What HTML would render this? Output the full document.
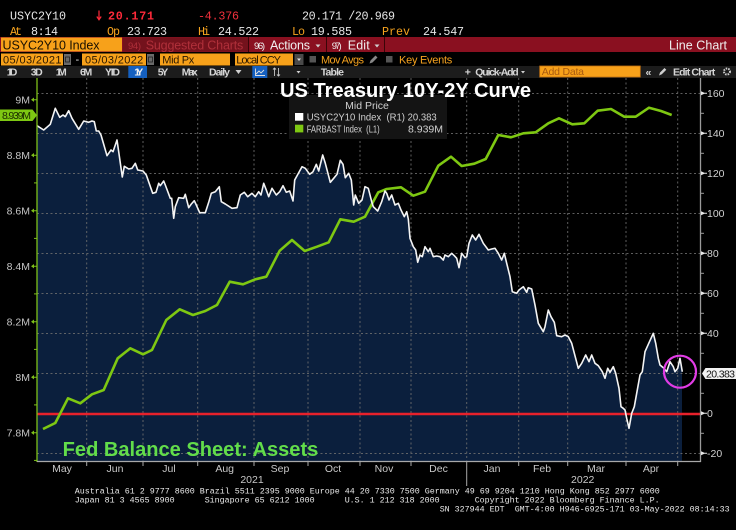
<!DOCTYPE html>
<html><head><meta charset="utf-8"><style>
html,body{margin:0;padding:0;background:#000;}
body{width:736px;height:530px;overflow:hidden;}
svg{display:block;}
.m{font-family:"Liberation Mono",monospace;}
.s{font-family:"Liberation Sans",sans-serif;}
</style></head><body>
<svg width="736" height="530" viewBox="0 0 736 530" xmlns="http://www.w3.org/2000/svg">
<rect width="736" height="530" fill="#000"/>
<!-- header row 1 -->
<g class="m" font-size="11.7">
<text x="10" y="19.5" fill="#e6e6e6" textLength="56">USYC2Y10</text>
<path d="M99 10.5V19.5M96.8 16.5L99 19.8L101.2 16.5" stroke="#ff2a3a" stroke-width="1.2" fill="none"/>
<text x="108" y="19.5" fill="#ff2a3a" font-weight="bold" textLength="46">20.171</text>
<text x="198" y="19.5" fill="#f0303c" textLength="41">-4.376</text>
<text x="302" y="19.5" fill="#e6e6e6" textLength="93">20.171 /20.969</text>
<text x="10" y="35" fill="#f5a21e" textLength="12">At</text>
<text x="31" y="35" fill="#e6e6e6" textLength="27">8:14</text>
<text x="107" y="35" fill="#f5a21e" textLength="13">Op</text>
<text x="127" y="35" fill="#e6e6e6" textLength="40">23.723</text>
<text x="198" y="35" fill="#f5a21e" textLength="12">Hi</text>
<text x="218" y="35" fill="#e6e6e6" textLength="41">24.522</text>
<text x="292" y="35" fill="#f5a21e" textLength="13">Lo</text>
<text x="311" y="35" fill="#e6e6e6" textLength="41">19.585</text>
<text x="382" y="35" fill="#f5a21e" textLength="28">Prev</text>
<text x="423" y="35" fill="#e6e6e6" textLength="41">24.547</text>
</g>
<!-- row 3 red bar -->
<rect x="0" y="37" width="736" height="15" fill="#8a1020"/>
<rect x="1" y="37.5" width="121" height="14" fill="#f7a11a"/>
<rect x="123" y="37.5" width="125" height="14" fill="#74121c"/>
<line x1="248.5" y1="37" x2="248.5" y2="52" stroke="#3a0508"/>
<line x1="326.5" y1="37" x2="326.5" y2="52" stroke="#3a0508"/>
<line x1="384.5" y1="37" x2="384.5" y2="52" stroke="#3a0508"/>
<g class="s">
<text x="2.5" y="49.5" font-size="12.5" fill="#1a1000" textLength="97">USYC2Y10 Index</text>
<text x="128" y="49" font-size="9.5" fill="#b0303a" textLength="13">94)</text>
<text x="145.7" y="49.5" font-size="12.5" fill="#b0303a" textLength="97.6">Suggested Charts</text>
<text x="254" y="49" font-size="9.5" fill="#f0f0f0" textLength="11">96)</text>
<text x="270" y="49.5" font-size="12.5" fill="#f0f0f0" textLength="40">Actions</text>
<path d="M315.5 44.5h5l-2.5 3z" fill="#d0d0d0"/>
<text x="331.7" y="49" font-size="9.5" fill="#f0f0f0" textLength="10">97)</text>
<text x="347.7" y="49.5" font-size="12.5" fill="#f0f0f0" textLength="22">Edit</text>
<path d="M374.5 44.5h5l-2.5 3z" fill="#d0d0d0"/>
<text x="669" y="49.5" font-size="12.5" fill="#f0f0f0" textLength="58">Line Chart</text>
</g>
<!-- row 4 -->
<rect x="1" y="53.5" width="62" height="12" fill="#f7a11a"/>
<rect x="64" y="54" width="7" height="11" fill="#6a6a6a"/>
<rect x="65.5" y="57" width="4" height="5" fill="none" stroke="#222" stroke-width="0.8"/>
<rect x="82" y="53.5" width="64" height="12" fill="#f7a11a"/>
<rect x="147" y="54" width="7" height="11" fill="#6a6a6a"/>
<rect x="148.5" y="57" width="4" height="5" fill="none" stroke="#222" stroke-width="0.8"/>
<rect x="160" y="53.5" width="70" height="12" fill="#f7a11a"/>
<rect x="235" y="53.5" width="58" height="12" fill="#f7a11a"/>
<rect x="294.5" y="54" width="9" height="11" fill="#4a4a4a"/>
<path d="M297 58.5h4l-2 2.5z" fill="#ddd"/>
<rect x="309.5" y="56" width="6.5" height="6.5" fill="#555"/>
<rect x="386" y="56" width="6.5" height="6.5" fill="#555"/>
<path d="M369.5 63.5l1-3 5-5 2 2-5 5z" fill="#888"/>
<g class="s" font-size="11">
<text x="3" y="63.5" fill="#2a1800" textLength="58.5">05/03/2021</text>
<text x="75.5" y="63" fill="#e0e0e0">-</text>
<text x="85" y="63.5" fill="#2a1800" textLength="58.3">05/03/2022</text>
<text x="162.3" y="63.5" fill="#2a1800" textLength="32">Mid Px</text>
<text x="236.3" y="63.5" fill="#2a1800" textLength="44.7">Local CCY</text>
<text x="321" y="63.5" fill="#f5a21e" textLength="43">Mov Avgs</text>
<text x="399" y="63.5" fill="#f5a21e" textLength="53.3">Key Events</text>
</g>
<!-- row 5 -->
<rect x="0" y="66" width="736" height="12" fill="#1c1c1c"/>
<rect x="128.3" y="66" width="18.7" height="12" fill="#1560c0"/>
<rect x="252.3" y="66" width="15" height="12" fill="#1560c0"/>
<path d="M255 75.5h10M255.5 75V68.5M256 74l3-3 2 2 3-3" stroke="#e0e0e0" stroke-width="0.9" fill="none"/>
<path d="M274.5 68v8M273 69.5l1.5-1.5 1.5 1.5M278.5 68v8M277 74.5l1.5 1.5 1.5-1.5" stroke="#c8c8c8" stroke-width="0.9" fill="none"/>
<rect x="539.7" y="66" width="100.6" height="11" fill="#f7a11a" stroke="#c07010" stroke-width="0.8"/>
<g class="s" font-size="10.5" fill="#d6d6d6" font-weight="bold">
<text x="6.7" y="75.5" textLength="10.6">1D</text>
<text x="30.7" y="75.5" textLength="12">3D</text>
<text x="55.7" y="75.5" textLength="11">1M</text>
<text x="80" y="75.5" textLength="12.3">6M</text>
<text x="105" y="75.5" textLength="15">YTD</text>
<text x="134.3" y="75.5" textLength="9" fill="#f0f0f0">1Y</text>
<text x="157.7" y="75.5" textLength="10.6">5Y</text>
<text x="181.7" y="75.5" textLength="16">Max</text>
<text x="209" y="75.5" textLength="21">Daily</text>
<text x="320.7" y="75.5" textLength="23.3">Table</text>
<text x="464.7" y="75.5" textLength="5.3">+</text>
<text x="475.3" y="75.5" textLength="43.4">Quick-Add</text>
<text x="645.5" y="75.5" textLength="7">«</text>
<text x="673" y="75.5" textLength="42.3">Edit Chart</text>
</g>
<path d="M235.5 70h6l-3 4z" fill="#d0d0d0"/>
<path d="M296.5 71h4l-2 2.5z" fill="#d0d0d0"/>
<path d="M521 71h4l-2 2.5z" fill="#d0d0d0"/>
<path d="M659 75.5l1-3 4.5-4.5 1.8 1.8-4.5 4.5z" fill="#cfcfcf"/>
<circle cx="727" cy="71.5" r="3" fill="none" stroke="#cfcfcf" stroke-width="2" stroke-dasharray="1.5,1"/>
<text class="s" x="541.7" y="75" font-size="10.5" fill="#a85a10" textLength="42.3">Add Data</text>

<!-- chart -->
<polygon fill="#0b1f3d" points="37,461 37,125.7 43.7,130 50.3,124.3 55.3,108.3 59.7,117.3 63,115 65.3,116.7 68.7,110.7 72,118.3 78.7,129.3 83.7,121 88.7,122.3 92,121 94.3,121.7 96.3,131 98.7,131 101,135 107,155.7 111,150 113,151.7 117,140 118.7,151.7 122.3,177 124.3,166.3 128.7,169 132,168.3 135.3,163.3 137.7,170 143,171 146.3,175 152.7,193.3 156,192.3 158.7,183.3 160.3,185.7 163.7,181 165.3,185 170.3,198.3 171.7,198.3 173.7,218.3 175.3,206.7 178.7,197.7 183.7,198.3 185.3,194.3 188.7,207.7 191.3,204 194.3,200.7 196.3,205 199.7,212.7 205.3,212.7 208.7,202.3 211.3,193.3 215.3,191.7 219.3,186.7 221.3,201.7 225.3,204 232,208.3 237,207.7 240.3,195 244.3,192.3 247.7,196.7 252,193.3 255.3,196.7 258.7,191.7 261,195 263.7,183.3 266.3,190 268.7,196.7 272,188.3 276.3,195 279.7,191.7 283,185.7 286.3,192.3 289.7,191 293,201 294.7,180 302,166.7 305.3,168.3 309.7,174.3 313,171.7 316.3,164.3 318.7,171 322.7,155 325.3,163.3 330.3,182.3 333.7,178.3 337,174.3 340.3,160.3 343,164.3 345.3,177.7 348.7,173.3 351.3,180 353.7,205 355.3,195 358.7,203.3 362,200 365,186.7 368.3,188.3 371.7,201.7 373.3,206.7 377.7,211 381.7,201.7 385,191 386.7,193.3 389,200 391.7,195 395,205 398.3,203.3 401,210 404.3,216.7 406.7,211.7 408.3,219 410,238.3 413.3,246.7 415.7,250 417.7,262.3 420,255 422.3,256.7 425,246.7 428.3,251.7 430,248.3 433.3,256.7 436.7,256 440,256.7 443.3,260 445,255 448.3,256.7 451.7,253.3 454.3,255.7 456.7,258.3 459,267.7 461.7,253.3 465,257.7 466.7,256.7 469,243.3 472.3,235 475.7,240 479,234.3 483.3,243.3 488.3,250 491.7,249 495,248.3 498.3,253.3 501.7,260 504.3,253.3 506.7,263.3 510,276.7 512.3,291.7 516.7,293.3 519,290 523.3,286.7 526.7,292.3 528.3,287.7 531.7,289 535,305 538.3,323.3 543.3,331.7 545,326.7 548.3,310 551,316.7 554.3,322.3 556.7,335.7 561.7,336.7 565,335 568.3,336.7 571.7,343.3 578.3,368.3 581.7,363.3 585.7,355 589,361.7 591.7,355 595,363.3 598.3,365.7 602.3,371.7 605,378.3 607.7,368.3 610,372.3 613.3,366.7 615.7,373.3 619,388.3 621,406.7 623.3,408.3 625,410 626.7,418.3 629,428.3 631.7,413.3 634.3,406.7 636.7,393.3 640,375 642.3,371.7 645,351.7 648.3,344.3 653.3,333.3 655.7,343.3 658.3,358.3 660,365 663.3,367.7 666.7,371.7 670,361.7 673.3,366.7 675,371.7 677.7,368.3 680,358.3 682,371.7 682,461"/>
<!-- grid -->
<g stroke="#6f6f6f" stroke-width="1" stroke-dasharray="2,2.5" opacity="0.85">
<line x1="37" y1="93.5" x2="700" y2="93.5"/>
<line x1="37" y1="133.5" x2="700" y2="133.5"/>
<line x1="37" y1="173.5" x2="700" y2="173.5"/>
<line x1="37" y1="213.5" x2="700" y2="213.5"/>
<line x1="37" y1="253.5" x2="700" y2="253.5"/>
<line x1="37" y1="293.5" x2="700" y2="293.5"/>
<line x1="37" y1="333.5" x2="700" y2="333.5"/>
<line x1="37" y1="373.5" x2="700" y2="373.5"/>
<line x1="37" y1="453.5" x2="700" y2="453.5"/>
<line x1="86.7" y1="78" x2="86.7" y2="461"/>
<line x1="143" y1="78" x2="143" y2="461"/>
<line x1="197.7" y1="78" x2="197.7" y2="461"/>
<line x1="254" y1="78" x2="254" y2="461"/>
<line x1="308" y1="78" x2="308" y2="461"/>
<line x1="360" y1="78" x2="360" y2="461"/>
<line x1="411" y1="78" x2="411" y2="461"/>
<line x1="466.7" y1="78" x2="466.7" y2="461"/>
<line x1="518.7" y1="78" x2="518.7" y2="461"/>
<line x1="567.7" y1="78" x2="567.7" y2="461"/>
<line x1="626" y1="78" x2="626" y2="461"/>
<line x1="677.7" y1="78" x2="677.7" y2="461"/>
</g>
<!-- legend -->
<rect x="289" y="95" width="158" height="44" fill="#141414"/>
<g class="s" font-size="10.5" fill="#d0d0d0">
<text x="367" y="109" text-anchor="middle">Mid Price</text>
<rect x="295" y="113" width="8.3" height="7.7" fill="#ffffff"/>
<text x="306.7" y="120.5" textLength="130" lengthAdjust="spacingAndGlyphs" xml:space="preserve" style="white-space:pre">USYC2Y10 Index  (R1) 20.383</text>
<rect x="295" y="124.7" width="8.3" height="7.7" fill="#7ec812"/>
<text x="306.7" y="132.3" textLength="73" lengthAdjust="spacingAndGlyphs" xml:space="preserve" style="white-space:pre">FARBAST Index  (L1)</text>
<text x="443" y="132.3" text-anchor="end">8.939M</text>
</g>
<!-- title (on top of legend) -->
<text class="s" x="280" y="97" font-size="20" font-weight="bold" fill="#ffffff" textLength="251" lengthAdjust="spacingAndGlyphs">US Treasury 10Y-2Y Curve</text>
<!-- lines -->
<line x1="37" y1="414" x2="701" y2="414" stroke="#e8212b" stroke-width="2.6"/>
<polyline fill="none" stroke="#7ec812" stroke-width="2.6" stroke-linejoin="round" points="43,429 55.3,423 68,398.3 80.3,403.3 92,394.3 103.7,390 117.7,358.3 130.3,348.3 143,354.3 152,350 166.3,320 179.7,309.3 193,315 205.3,311 217,305 229.7,281.7 243,284.3 255.3,279.3 266.3,276.7 279.7,250.7 292,240 304.7,251 317,246.7 328.7,242.3 340.3,219.3 353.7,221.7 365,216.7 378.3,192.3 386.7,189 401,187.3 413.3,195.7 425,191.7 438.3,165.7 451,156.7 461.7,166 474.3,163.7 485.7,159 498.3,135 511,137.3 523.3,133.3 535.7,132.3 548.3,123.3 559,118.3 572.3,124.3 584.3,123.3 597.7,110.7 611,109 624.3,116.7 635.7,116.7 649,107.7 661,111 671.7,115"/>
<polyline fill="none" stroke="#f4f4f4" stroke-width="1.6" stroke-linejoin="round" points="37,125.7 43.7,130 50.3,124.3 55.3,108.3 59.7,117.3 63,115 65.3,116.7 68.7,110.7 72,118.3 78.7,129.3 83.7,121 88.7,122.3 92,121 94.3,121.7 96.3,131 98.7,131 101,135 107,155.7 111,150 113,151.7 117,140 118.7,151.7 122.3,177 124.3,166.3 128.7,169 132,168.3 135.3,163.3 137.7,170 143,171 146.3,175 152.7,193.3 156,192.3 158.7,183.3 160.3,185.7 163.7,181 165.3,185 170.3,198.3 171.7,198.3 173.7,218.3 175.3,206.7 178.7,197.7 183.7,198.3 185.3,194.3 188.7,207.7 191.3,204 194.3,200.7 196.3,205 199.7,212.7 205.3,212.7 208.7,202.3 211.3,193.3 215.3,191.7 219.3,186.7 221.3,201.7 225.3,204 232,208.3 237,207.7 240.3,195 244.3,192.3 247.7,196.7 252,193.3 255.3,196.7 258.7,191.7 261,195 263.7,183.3 266.3,190 268.7,196.7 272,188.3 276.3,195 279.7,191.7 283,185.7 286.3,192.3 289.7,191 293,201 294.7,180 302,166.7 305.3,168.3 309.7,174.3 313,171.7 316.3,164.3 318.7,171 322.7,155 325.3,163.3 330.3,182.3 333.7,178.3 337,174.3 340.3,160.3 343,164.3 345.3,177.7 348.7,173.3 351.3,180 353.7,205 355.3,195 358.7,203.3 362,200 365,186.7 368.3,188.3 371.7,201.7 373.3,206.7 377.7,211 381.7,201.7 385,191 386.7,193.3 389,200 391.7,195 395,205 398.3,203.3 401,210 404.3,216.7 406.7,211.7 408.3,219 410,238.3 413.3,246.7 415.7,250 417.7,262.3 420,255 422.3,256.7 425,246.7 428.3,251.7 430,248.3 433.3,256.7 436.7,256 440,256.7 443.3,260 445,255 448.3,256.7 451.7,253.3 454.3,255.7 456.7,258.3 459,267.7 461.7,253.3 465,257.7 466.7,256.7 469,243.3 472.3,235 475.7,240 479,234.3 483.3,243.3 488.3,250 491.7,249 495,248.3 498.3,253.3 501.7,260 504.3,253.3 506.7,263.3 510,276.7 512.3,291.7 516.7,293.3 519,290 523.3,286.7 526.7,292.3 528.3,287.7 531.7,289 535,305 538.3,323.3 543.3,331.7 545,326.7 548.3,310 551,316.7 554.3,322.3 556.7,335.7 561.7,336.7 565,335 568.3,336.7 571.7,343.3 578.3,368.3 581.7,363.3 585.7,355 589,361.7 591.7,355 595,363.3 598.3,365.7 602.3,371.7 605,378.3 607.7,368.3 610,372.3 613.3,366.7 615.7,373.3 619,388.3 621,406.7 623.3,408.3 625,410 626.7,418.3 629,428.3 631.7,413.3 634.3,406.7 636.7,393.3 640,375 642.3,371.7 645,351.7 648.3,344.3 653.3,333.3 655.7,343.3 658.3,358.3 660,365 663.3,367.7 666.7,371.7 670,361.7 673.3,366.7 675,371.7 677.7,368.3 680,358.3 682.3,371.7"/>
<circle cx="680" cy="371.7" r="16" fill="none" stroke="#e23ce6" stroke-width="2.2"/>
<text class="s" x="62.7" y="456" font-size="20" font-weight="bold" fill="#62dd4a" textLength="255.6" lengthAdjust="spacingAndGlyphs">Fed Balance Sheet: Assets</text>
<!-- axes -->
<line x1="37" y1="78" x2="37" y2="462" stroke="#7ec01a" stroke-width="1.3"/>
<line x1="700.5" y1="78" x2="700.5" y2="462" stroke="#9a9a9a" stroke-width="1.3"/>
<line x1="37" y1="461.5" x2="701" y2="461.5" stroke="#a8a8a8" stroke-width="1.2"/>
<g stroke="#a8a8a8" stroke-width="1">
<line x1="86.7" y1="461" x2="86.7" y2="466"/><line x1="143" y1="461" x2="143" y2="466"/><line x1="197.7" y1="461" x2="197.7" y2="466"/><line x1="254" y1="461" x2="254" y2="466"/><line x1="308" y1="461" x2="308" y2="466"/><line x1="360" y1="461" x2="360" y2="466"/><line x1="411" y1="461" x2="411" y2="466"/><line x1="466.7" y1="461" x2="466.7" y2="486"/><line x1="518.7" y1="461" x2="518.7" y2="466"/><line x1="567.7" y1="461" x2="567.7" y2="466"/><line x1="626" y1="461" x2="626" y2="466"/><line x1="677.7" y1="461" x2="677.7" y2="466"/>
</g>
<g class="s" font-size="10.5" fill="#c8c8c8" text-anchor="middle">
<text x="62" y="472">May</text><text x="115" y="472">Jun</text><text x="169" y="472">Jul</text><text x="224.7" y="472">Aug</text><text x="280" y="472">Sep</text><text x="333" y="472">Oct</text><text x="384" y="472">Nov</text><text x="438.5" y="472">Dec</text><text x="492" y="472">Jan</text><text x="542" y="472">Feb</text><text x="596" y="472">Mar</text><text x="651" y="472">Apr</text>
<text x="252" y="483">2021</text><text x="582.7" y="483">2022</text>
</g>
<!-- left axis ticks/labels -->
<g fill="#7ec01a">
<path d="M31 99.7l3-2.2v4.4z M33 99.2h4v1h-4z"/>
<path d="M31 155.2l3-2.2v4.4z M33 154.7h4v1h-4z"/>
<path d="M31 210.7l3-2.2v4.4z M33 210.2h4v1h-4z"/>
<path d="M31 266.2l3-2.2v4.4z M33 265.7h4v1h-4z"/>
<path d="M31 321.7l3-2.2v4.4z M33 321.2h4v1h-4z"/>
<path d="M31 377.2l3-2.2v4.4z M33 376.7h4v1h-4z"/>
<path d="M31 432.7l3-2.2v4.4z M33 432.2h4v1h-4z"/>
<rect x="34" y="182.4" width="3" height="1"/><rect x="34" y="237.9" width="3" height="1"/><rect x="34" y="293.4" width="3" height="1"/><rect x="34" y="348.9" width="3" height="1"/><rect x="34" y="404.4" width="3" height="1"/><rect x="34" y="459.9" width="3" height="1"/>
</g>
<g class="s" font-size="10.5" fill="#c4c4c4" text-anchor="end">
<text x="30" y="103.5">9M</text><text x="30" y="159">8.8M</text><text x="30" y="214.5">8.6M</text><text x="30" y="270">8.4M</text><text x="30" y="325.5">8.2M</text><text x="30" y="381">8M</text><text x="30" y="436.5">7.8M</text>
</g>
<path d="M0 109.5H32.5L37 115.2L32.5 121H0Z" fill="#7ec812"/>
<text class="s" x="2" y="119" font-size="10.5" fill="#1a2a00" textLength="29">8.939M</text>
<!-- right axis -->
<g fill="#e8e8e8">
<path d="M701 91.3l4.5 2-4.5 2z M704 92.8h3v1h-3z"/>
<path d="M701 131.3l4.5 2-4.5 2z M704 132.8h3v1h-3z"/>
<path d="M701 171.3l4.5 2-4.5 2z M704 172.8h3v1h-3z"/>
<path d="M701 211.3l4.5 2-4.5 2z M704 212.8h3v1h-3z"/>
<path d="M701 251.3l4.5 2-4.5 2z M704 252.8h3v1h-3z"/>
<path d="M701 291.3l4.5 2-4.5 2z M704 292.8h3v1h-3z"/>
<path d="M701 331.3l4.5 2-4.5 2z M704 332.8h3v1h-3z"/>
<path d="M701 411.3l4.5 2-4.5 2z M704 412.8h3v1h-3z"/>
<path d="M701 451.3l4.5 2-4.5 2z M704 452.8h3v1h-3z"/>
</g>
<g fill="#9a9a9a">
<rect x="701" y="112.8" width="3" height="1"/><rect x="701" y="152.8" width="3" height="1"/><rect x="701" y="192.8" width="3" height="1"/><rect x="701" y="232.8" width="3" height="1"/><rect x="701" y="272.8" width="3" height="1"/><rect x="701" y="312.8" width="3" height="1"/><rect x="701" y="352.8" width="3" height="1"/><rect x="701" y="392.8" width="3" height="1"/><rect x="701" y="432.8" width="3" height="1"/>
</g>
<g class="s" font-size="10.5" fill="#d0d0d0">
<text x="707" y="97">160</text><text x="707" y="137">140</text><text x="707" y="177">120</text><text x="707" y="217">100</text><text x="707" y="257">80</text><text x="707" y="297">60</text><text x="707" y="337">40</text><text x="707" y="417">0</text><text x="707" y="457">-20</text>
</g>
<path d="M702 373.5L705.5 368H736V379H705.5Z" fill="#f2f2f2"/>
<text class="s" x="706" y="377.5" font-size="10.5" fill="#111" textLength="29">20.383</text>
<!-- footer -->
<g class="m" font-size="8.333" fill="#e8e8e8">
<text x="74.7" y="493.3" textLength="585" xml:space="preserve" style="white-space:pre">Australia 61 2 9777 8600 Brazil 5511 2395 9000 Europe 44 20 7330 7500 Germany 49 69 9204 1210 Hong Kong 852 2977 6000</text>
<text x="74.7" y="502.3">Japan 81 3 4565 8900</text>
<text x="204.7" y="502.3">Singapore 65 6212 1000</text>
<text x="344.7" y="502.3">U.S. 1 212 318 2000</text>
<text x="474.7" y="502.3">Copyright 2022 Bloomberg Finance L.P.</text>
<text x="439.7" y="511.3">SN 327944 EDT</text>
<text x="514.7" y="511.3">GMT-4:00 H946-6925-171 03-May-2022 08:14:33</text>
</g>
</svg>
</body></html>
